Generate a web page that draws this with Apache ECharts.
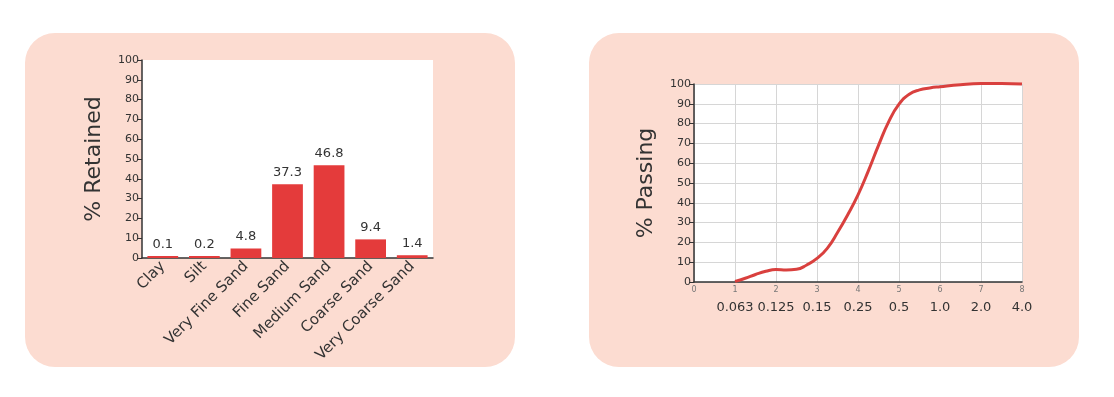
<!DOCTYPE html>
<html>
<head>
<meta charset="utf-8">
<script src="https://cdn.jsdelivr.net/npm/echarts@6/dist/echarts.min.js"></script>
<style>
  html, body { margin: 0; padding: 0; background: #ffffff; }
  #wrap { position: relative; width: 1114px; height: 397px; }
  .panel { position: absolute; top: 33px; width: 490px; height: 334px; background: #fcdcd1; border-radius: 30px; }
  #main { position: absolute; left: 0; top: 0; width: 1114px; height: 397px; }
</style>
</head>
<body>
<div id="wrap">
  <div class="panel" style="left:25px"></div>
  <div class="panel" style="left:589px"></div>
  <div id="main"></div>
</div>
<script>
// 左图：各粒径级别的留存百分比
const categories = ['Clay', 'Silt', 'Very Fine Sand', 'Fine Sand', 'Medium Sand', 'Coarse Sand', 'Very Coarse Sand'];
const retained = [0.1, 0.2, 4.8, 37.3, 46.8, 9.4, 1.4];

// 右图：累计通过百分比曲线
const sieveX = [1, 1.25, 1.5, 1.75, 2, 2.25, 2.5, 2.75, 3, 3.25, 3.5, 3.75, 4, 4.25, 4.5, 4.75, 5, 5.25, 5.5, 5.75, 6, 6.5, 7, 7.5, 8];
const passing = [0.3, 1.9, 3.8, 5.4, 6.3, 6.1, 6.4, 8.6, 11.9, 17, 25, 34, 44, 56, 69, 81, 89.8, 94.8, 97, 98, 98.6, 99.6, 100.2, 100.3, 100];
// 第二行刻度标签（筛孔尺寸）
const sieveLabels = ['', '0.063', '0.125', '0.15', '0.25', '0.5', '1.0', '2.0', '4.0'];

const font = 'DejaVu Sans';
const dark = '#333333';

let passData = [];
for (let i in sieveX) {
    passData.push([sieveX[i], passing[i]]);
}

const chart = echarts.init(document.getElementById('main'));

const option = {
    animation: false,
    textStyle: { fontFamily: font },
    grid: [
        { left: 142, top: 60, width: 291, height: 198, show: true, backgroundColor: '#ffffff', borderWidth: 0 },
        { left: 694, top: 84, width: 328, height: 198, show: true, backgroundColor: '#ffffff', borderWidth: 0 }
    ],
    xAxis: [
        {
            type: 'category',
            gridIndex: 0,
            data: categories,
            axisLine: { lineStyle: { color: dark, width: 1.5 } },
            axisTick: { length: 4, lineStyle: { color: dark } },
            axisLabel: { rotate: 45, fontSize: 15, color: dark, margin: 6, interval: 0 }
        },
        {
            type: 'value',
            gridIndex: 1,
            min: 0, max: 8, interval: 1,
            axisLine: { lineStyle: { color: dark, width: 1.5 } },
            axisTick: { show: false },
            axisLabel: { fontSize: 8, color: '#777777', margin: 4 },
            splitLine: { show: true, lineStyle: { color: '#d6d6d6' } }
        },
        {
            type: 'value',
            gridIndex: 1,
            position: 'bottom',
            min: 0, max: 8, interval: 1,
            axisLine: { show: false },
            axisTick: { show: false },
            splitLine: { show: false },
            axisLabel: {
                fontSize: 13, color: dark, margin: 19,
                formatter: function (v) { return sieveLabels[v] || ''; }
            }
        }
    ],
    yAxis: [
        {
            type: 'value',
            gridIndex: 0,
            min: 0, max: 100, interval: 10,
            name: '% Retained',
            nameLocation: 'middle',
            nameGap: 37,
            nameTextStyle: { fontSize: 22, color: dark },
            axisLine: { show: true, lineStyle: { color: dark, width: 1.5 } },
            axisTick: { show: true, length: 5, lineStyle: { color: dark } },
            axisLabel: { fontSize: 11, color: dark, margin: 3 },
            splitLine: { show: false }
        },
        {
            type: 'value',
            gridIndex: 1,
            min: 0, max: 100, interval: 10,
            name: '% Passing',
            nameLocation: 'middle',
            nameGap: 37,
            nameTextStyle: { fontSize: 22, color: dark },
            axisLine: { show: true, lineStyle: { color: dark, width: 1.5 } },
            axisTick: { show: true, length: 5, lineStyle: { color: dark } },
            axisLabel: { fontSize: 11, color: dark, margin: 3 },
            splitLine: { show: true, lineStyle: { color: '#d6d6d6' } }
        }
    ],
    series: [
        {
            type: 'bar',
            xAxisIndex: 0,
            yAxisIndex: 0,
            data: retained,
            barCategoryGap: '26%',
            barMinHeight: 2,
            itemStyle: { color: '#e43b3b' },
            label: { show: true, position: 'top', distance: 5, fontSize: 13, color: dark }
        },
        {
            type: 'line',
            xAxisIndex: 1,
            yAxisIndex: 1,
            data: passData,
            smooth: 0.5,
            showSymbol: false,
            clip: false,
            lineStyle: { color: '#d9403e', width: 3 }
        }
    ]
};

chart.setOption(option);
</script>
</body>
</html>
